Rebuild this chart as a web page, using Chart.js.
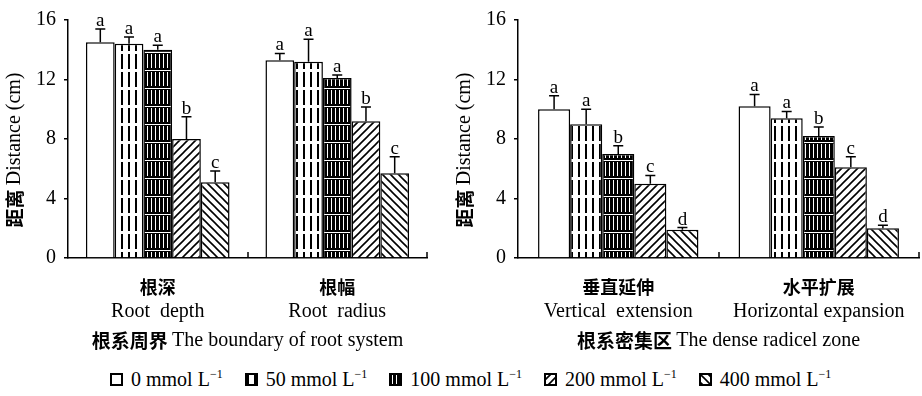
<!DOCTYPE html>
<html>
<head>
<meta charset="utf-8">
<script src="https://cdn.jsdelivr.net/npm/chart.js@4"></script>
<style>
body{margin:0;background:#fff;width:922px;height:396px;overflow:hidden;position:relative;font-family:"Liberation Serif",serif;color:#000;}
#left{position:absolute;left:0;top:0;width:450px;height:366px;}
#right{position:absolute;left:450px;top:0;width:472px;height:366px;}
#legend{position:absolute;left:110px;top:368px;font-size:20px;display:flex;align-items:center;white-space:nowrap;line-height:22px;}
.item{display:flex;align-items:center;margin-right:22px;}
.item canvas{width:13px;height:13px;margin-right:8px;}
sup{font-size:12px;vertical-align:8px;line-height:0;}
</style>
</head>
<body>
<div id="left"><canvas id="c1"></canvas></div>
<div id="right"><canvas id="c2"></canvas></div>
<div id="legend"></div>
<script>
// salt concentrations (mmol L-1)
var treatments = ['0', '50', '100', '200', '400'];

// panel 1: root system boundary
var groupsZh1 = ['根深', '根幅'];
var groupsEn1 = ['Root  depth', 'Root  radius'];
var rootDepth = [14.5, 14.4, 14.0, 8.0, 5.1];
var rootDepthErr = [0.9, 0.45, 0.3, 1.5, 0.75];
var rootDepthSig = ['a', 'a', 'a', 'b', 'c'];
var rootRadius = [13.3, 13.2, 12.1, 9.2, 5.7];
var rootRadiusErr = [0.45, 1.5, 0.2, 0.95, 1.1];
var rootRadiusSig = ['a', 'a', 'a', 'b', 'c'];

// panel 2: dense radicel zone
var groupsZh2 = ['垂直延伸', '水平扩展'];
var groupsEn2 = ['Vertical  extension', 'Horizontal expansion'];
var vertExt = [10.0, 9.0, 7.0, 5.0, 1.9];
var vertExtErr = [0.9, 1.0, 0.55, 0.55, 0.15];
var vertExtSig = ['a', 'a', 'b', 'c', 'd'];
var horizExp = [10.2, 9.4, 8.2, 6.1, 2.0];
var horizExpErr = [0.8, 0.45, 0.6, 0.7, 0.2];
var horizExpSig = ['a', 'a', 'b', 'c', 'd'];

var yTicks = [0, 4, 8, 12, 16];

var serif = '"Liberation Serif", "Times New Roman", serif';
var cjk = '"Noto Sans CJK SC", sans-serif';

function makePattern(kind) {
    if (kind === 0) return '#fff';
    var c = document.createElement('canvas');
    var x = c.getContext('2d');
    if (kind === 1) {
        c.width = 7; c.height = 18;
        x.fillStyle = '#fff'; x.fillRect(0, 0, 7, 18);
        x.fillStyle = '#000'; x.fillRect(2, 0, 2, 15);
    } else if (kind === 2) {
        c.width = 4; c.height = 18;
        x.fillStyle = '#000'; x.fillRect(0, 0, 4, 18);
        x.fillStyle = '#fff'; x.fillRect(3, 0, 1, 14); x.fillRect(0, 16, 4, 1);
    } else {
        c.width = 8; c.height = 8;
        x.fillStyle = '#fff'; x.fillRect(0, 0, 8, 8);
        x.strokeStyle = '#000'; x.lineWidth = 1.6;
        x.beginPath();
        if (kind === 3) {
            x.moveTo(0, 8); x.lineTo(8, 0);
            x.moveTo(-2, 2); x.lineTo(2, -2);
            x.moveTo(6, 10); x.lineTo(10, 6);
        } else {
            x.moveTo(0, 0); x.lineTo(8, 8);
            x.moveTo(-2, 6); x.lineTo(2, 10);
            x.moveTo(6, -2); x.lineTo(10, 2);
        }
        x.stroke();
    }
    return document.createElement('canvas').getContext('2d').createPattern(c, 'repeat');
}

var fills = treatments.map(function(t, i) { return makePattern(i); });

function drawMixed(ctx, parts, cx, cy) {
    var total = 0;
    parts.forEach(function(p) { ctx.font = p.font; total += ctx.measureText(p.text).width; });
    var x = cx - total / 2;
    ctx.textAlign = 'left';
    ctx.textBaseline = 'middle';
    parts.forEach(function(p) {
        ctx.font = p.font;
        ctx.fillText(p.text, x, cy);
        x += ctx.measureText(p.text).width;
    });
}

var extrasPlugin = {
    id: 'extras',
    afterDatasetsDraw: function(chart) {
        var ctx = chart.ctx;
        var y = chart.scales.y;
        ctx.save();
        ctx.strokeStyle = '#000';
        ctx.fillStyle = '#000';
        ctx.lineWidth = 1.5;
        chart.data.datasets.forEach(function(ds, i) {
            var meta = chart.getDatasetMeta(i);
            meta.data.forEach(function(bar, j) {
                var top = y.getPixelForValue(ds.data[j] + ds.err[j]);
                ctx.beginPath();
                ctx.moveTo(bar.x, bar.y);
                ctx.lineTo(bar.x, top);
                ctx.moveTo(bar.x - 5, top);
                ctx.lineTo(bar.x + 5, top);
                ctx.stroke();
                ctx.font = '19px ' + serif;
                ctx.textAlign = 'center';
                ctx.textBaseline = 'alphabetic';
                ctx.fillText(ds.sig[j], bar.x, top - 3);
            });
        });
        ctx.restore();
    },
    afterDraw: function(chart) {
        var ctx = chart.ctx;
        var area = chart.chartArea;
        var xs = chart.scales.x;
        var opts = chart.options.plugins.extras;
        ctx.save();
        ctx.strokeStyle = '#000';
        ctx.fillStyle = '#000';
        ctx.lineWidth = 1.5;
        // small inward ticks at category boundaries
        var n = chart.data.labels.length;
        var w = (xs.right - xs.left) / n;
        for (var i = 1; i <= n; i++) {
            var px = Math.round(xs.left + i * w);
            ctx.beginPath();
            ctx.moveTo(px, area.bottom);
            ctx.lineTo(px, area.bottom - 6);
            ctx.stroke();
        }
        // x axis title
        drawMixed(ctx, [
            {text: opts.titleZh + ' ', font: 'bold 19px ' + cjk},
            {text: opts.titleEn, font: '20px ' + serif}
        ], (area.left + area.right) / 2, area.bottom + 83);
        // y axis title
        ctx.translate(15, area.bottom - 108);
        ctx.rotate(-Math.PI / 2);
        drawMixed(ctx, [
            {text: '距离 ', font: 'bold 19px ' + cjk},
            {text: 'Distance (cm)', font: '20px ' + serif}
        ], 0, 0);
        ctx.restore();
    }
};

function makeChart(id, zh, en, a, aErr, aSig, b, bErr, bSig, titleZh, titleEn, padRight) {
    var datasets = treatments.map(function(t, i) {
        return {
            label: t + ' mmol L-1',
            data: [a[i], b[i]],
            err: [aErr[i], bErr[i]],
            sig: [aSig[i], bSig[i]],
            backgroundColor: fills[i],
            borderColor: '#000',
            borderWidth: 1.5,
            categoryPercentage: 0.8,
            barPercentage: 1.0
        };
    });
    return new Chart(document.getElementById(id).getContext('2d'), {
        type: 'bar',
        data: {labels: zh, datasets: datasets},
        plugins: [extrasPlugin],
        options: {
            responsive: true,
            maintainAspectRatio: false,
            animation: false,
            layout: {padding: {top: 0, right: padRight, bottom: 40, left: 0}},
            plugins: {
                legend: {display: false},
                tooltip: {enabled: false},
                extras: {titleZh: titleZh, titleEn: titleEn}
            },
            scales: {
                x: {
                    type: 'category',
                    grid: {display: false, drawTicks: false},
                    border: {color: '#000', width: 1.5},
                    afterFit: function(s) { s.height = 42; },
                    ticks: {color: '#000', padding: 18, font: {family: cjk, size: 18, weight: 'bold'}}
                },
                xEn: {
                    type: 'category',
                    position: 'bottom',
                    labels: en,
                    grid: {display: false, drawTicks: false},
                    border: {display: false},
                    afterFit: function(s) { s.height = 26; },
                    ticks: {color: '#000', padding: 0, font: {family: serif, size: 20}}
                },
                y: {
                    min: yTicks[0],
                    max: yTicks[yTicks.length - 1],
                    afterBuildTicks: function(s) { s.ticks = yTicks.map(function(v) { return {value: v}; }); },
                    afterFit: function(s) { s.width = 68; },
                    grid: {drawOnChartArea: false, tickLength: 4, color: '#000', lineWidth: 1.5},
                    border: {color: '#000', width: 1.5},
                    ticks: {color: '#000', padding: 8, font: {family: serif, size: 20}}
                }
            }
        }
    });
}

makeChart('c1', groupsZh1, groupsEn1, rootDepth, rootDepthErr, rootDepthSig,
    rootRadius, rootRadiusErr, rootRadiusSig, '根系周界', 'The boundary of root system', 23);
makeChart('c2', groupsZh2, groupsEn2, vertExt, vertExtErr, vertExtSig,
    horizExp, horizExpErr, horizExpSig, '根系密集区', 'The dense radicel zone', 3);

// legend
var legend = document.getElementById('legend');
treatments.forEach(function(t, i) {
    var item = document.createElement('div');
    item.className = 'item';
    var sw = document.createElement('canvas');
    sw.width = 13; sw.height = 13;
    var sc = sw.getContext('2d');
    sc.fillStyle = fills[i];
    sc.fillRect(0, 0, 13, 13);
    sc.strokeStyle = '#000';
    sc.lineWidth = 2;
    sc.strokeRect(1, 1, 11, 11);
    item.appendChild(sw);
    var span = document.createElement('span');
    span.innerHTML = t + ' mmol L<sup>&minus;1</sup>';
    item.appendChild(span);
    legend.appendChild(item);
});
</script>
</body>
</html>
